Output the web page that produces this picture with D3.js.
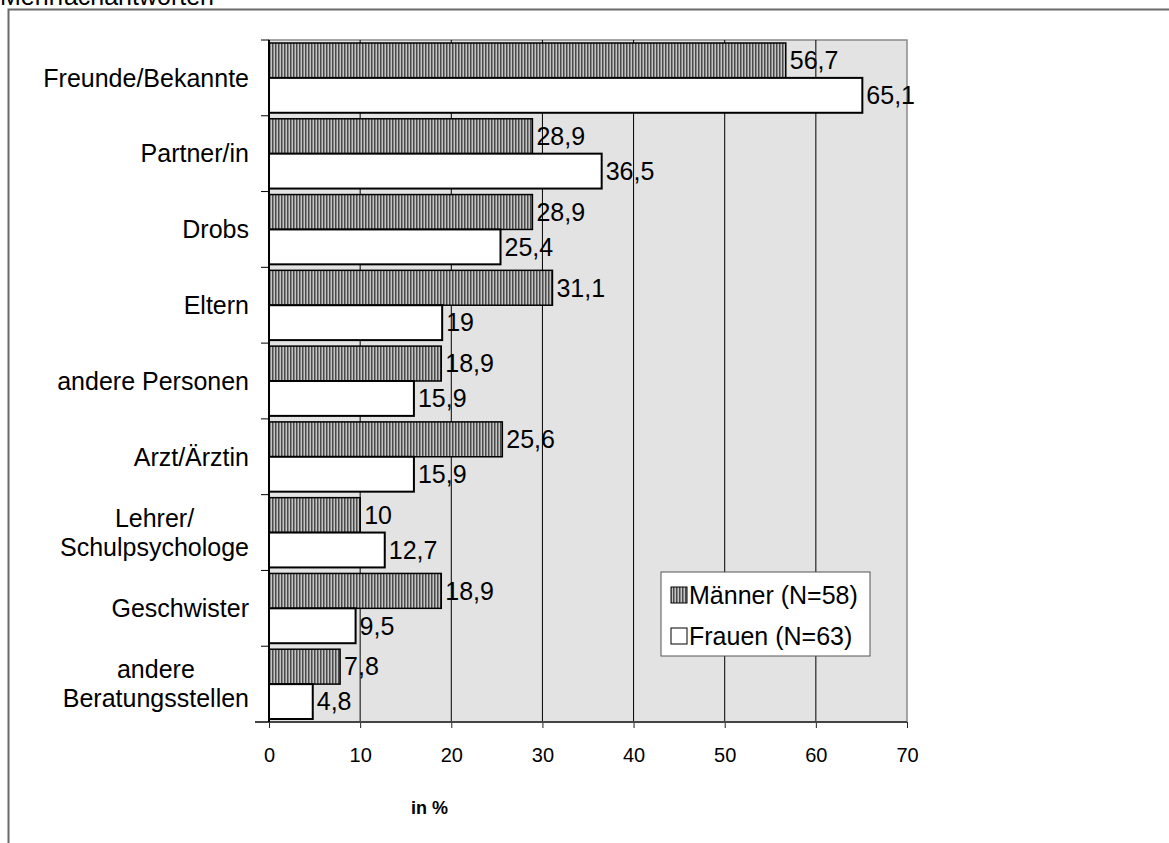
<!DOCTYPE html>
<html>
<head>
<meta charset="utf-8">
<script src="https://cdn.jsdelivr.net/npm/d3@7"></script>
<style>
  body { margin: 0; background: #fff; }
  svg { display: block; font-family: "Liberation Sans", Arial, sans-serif; }
</style>
</head>
<body>
<div id="chart"></div>
<script>
const categories = [
    ["Freunde/Bekannte"],
    ["Partner/in"],
    ["Drobs"],
    ["Eltern"],
    ["andere Personen"],
    ["Arzt/Ärztin"],
    ["Lehrer/", "Schulpsychologe"],
    ["Geschwister"],
    ["andere", "Beratungsstellen"]
];
const maenner = [56.7, 28.9, 28.9, 31.1, 18.9, 25.6, 10, 18.9, 7.8];
const frauen = [65.1, 36.5, 25.4, 19, 15.9, 15.9, 12.7, 9.5, 4.8];
const seriesNames = ["Männer (N=58)", "Frauen (N=63)"];
const xTicks = [0, 10, 20, 30, 40, 50, 60, 70];

const width = 1169, height = 843;
const margin = {top: 40, left: 269, right: 262, bottom: 121};
const innerW = width - margin.left - margin.right,
    innerH = height - margin.top - margin.bottom;

const svg = d3.select("#chart").append("svg")
    .attr("width", width)
    .attr("height", height);

// stripe pattern for Männer
const defs = svg.append("defs");
const pat = defs.append("pattern")
    .attr("id", "stripes")
    .attr("patternUnits", "userSpaceOnUse")
    .attr("width", 3).attr("height", 4);
pat.append("rect").attr("width", 3).attr("height", 4).attr("fill", "#c4c4c4");
pat.append("rect").attr("width", 1.5).attr("height", 4).attr("fill", "#4a4a4a");

// outer frame and title
svg.append("rect")
    .attr("x", 8.5).attr("y", 9.5)
    .attr("width", width + 20).attr("height", height + 20)
    .attr("fill", "none")
    .attr("stroke", "#6a6a6a")
    .attr("stroke-width", 2);
svg.append("text")
    .attr("x", 0).attr("y", 5)
    .attr("font-size", 25)
    .text("Mehrfachantworten");

const g = svg.append("g")
    .attr("transform", `translate(${margin.left},${margin.top})`);

const x = d3.scaleLinear().domain([0, 70]).range([0, innerW]);
const y = d3.scaleBand()
    .domain(d3.range(categories.length))
    .range([0, innerH]);
const sub = d3.scaleBand()
    .domain([0, 1])
    .range([3, y.bandwidth() - 3]);

// plot background
g.append("rect")
    .attr("width", innerW).attr("height", innerH)
    .attr("fill", "#e3e3e3")
    .attr("stroke", "#8a8a8a")
    .attr("stroke-width", 1.5);

// gridlines
g.append("g")
    .selectAll("line")
    .data(xTicks.filter(d => d > 0 && d < 70))
    .join("line")
    .attr("x1", d => x(d)).attr("x2", d => x(d))
    .attr("y1", 0).attr("y2", innerH)
    .attr("stroke", "#000")
    .attr("stroke-width", 1);

// bars
const rows = categories.map((c, i) => ({i, values: [maenner[i], frauen[i]]}));
const groups = g.append("g").selectAll("g")
    .data(rows)
    .join("g")
    .attr("transform", d => `translate(0,${y(d.i)})`);

groups.selectAll("rect")
    .data(d => d.values.map((v, k) => ({v, k})))
    .join("rect")
    .attr("x", 0)
    .attr("y", d => sub(d.k))
    .attr("width", d => x(d.v))
    .attr("height", sub.bandwidth())
    .attr("fill", d => d.k === 0 ? "url(#stripes)" : "#fff")
    .attr("stroke", "#000")
    .attr("stroke-width", d => d.k === 0 ? 1.5 : 2);

groups.selectAll("text")
    .data(d => d.values.map((v, k) => ({v, k})))
    .join("text")
    .attr("x", d => x(d.v) + 4)
    .attr("y", d => sub(d.k) + sub.bandwidth() / 2)
    .attr("dy", "0.35em")
    .attr("font-size", 25)
    .text(d => String(d.v).replace(".", ","));

// x axis
const axisX = d3.axisBottom(x)
    .tickValues(xTicks)
    .tickSize(6)
    .tickPadding(20)
    .tickFormat(d => d);
const ax = g.append("g")
    .attr("transform", `translate(0,${innerH})`)
    .call(axisX);
ax.select(".domain").remove();
ax.selectAll(".tick line").attr("stroke", "#222").attr("stroke-width", 1);
ax.selectAll(".tick text")
    .attr("font-size", 20)
    .attr("font-family", "Liberation Sans, Arial, sans-serif")
    .attr("fill", "#000");
g.append("line")
    .attr("x1", -14).attr("x2", innerW)
    .attr("y1", innerH).attr("y2", innerH)
    .attr("stroke", "#444").attr("stroke-width", 2);

// y axis line and category ticks
g.append("line")
    .attr("x1", 0).attr("x2", 0)
    .attr("y1", 0).attr("y2", innerH)
    .attr("stroke", "#000").attr("stroke-width", 2);
g.append("g").selectAll("line")
    .data(d3.range(categories.length))
    .join("line")
    .attr("x1", -8).attr("x2", 0)
    .attr("y1", d => y(d)).attr("y2", d => y(d))
    .attr("stroke", "#000").attr("stroke-width", 1);

// category labels, multi-line centred, right edge aligned
const labelRight = -20, lineH = 29;
categories.forEach((lines, i) => {
    const t = g.append("text")
        .attr("font-size", 25)
        .attr("text-anchor", "middle");
    const spans = lines.map((l, k) => t.append("tspan")
        .attr("y", y(i) + y.bandwidth() / 2 + (k - (lines.length - 1) / 2) * lineH)
        .attr("dy", "0.35em")
        .text(l));
    const maxW = d3.max(spans, s => s.node().getComputedTextLength());
    spans.forEach(s => s.attr("x", labelRight - maxW / 2));
});

// axis title
g.append("text")
    .attr("x", x(17.6))
    .attr("y", innerH + 92)
    .attr("text-anchor", "middle")
    .attr("font-size", 18)
    .attr("font-weight", "bold")
    .text("in %");

// legend
const legend = svg.append("g")
    .attr("transform", "translate(661,572)");
legend.append("rect")
    .attr("width", 209).attr("height", 84)
    .attr("fill", "#fff")
    .attr("stroke", "#555").attr("stroke-width", 1);
seriesNames.forEach((name, k) => {
    const yy = 23 + k * 41;
    legend.append("rect")
        .attr("x", 10).attr("y", yy - 8)
        .attr("width", 16).attr("height", 16)
        .attr("fill", k === 0 ? "url(#stripes)" : "#fff")
        .attr("stroke", "#000").attr("stroke-width", 1);
    legend.append("text")
        .attr("x", 28).attr("y", yy)
        .attr("dy", "0.35em")
        .attr("font-size", 25)
        .text(name);
});
</script>
</body>
</html>
